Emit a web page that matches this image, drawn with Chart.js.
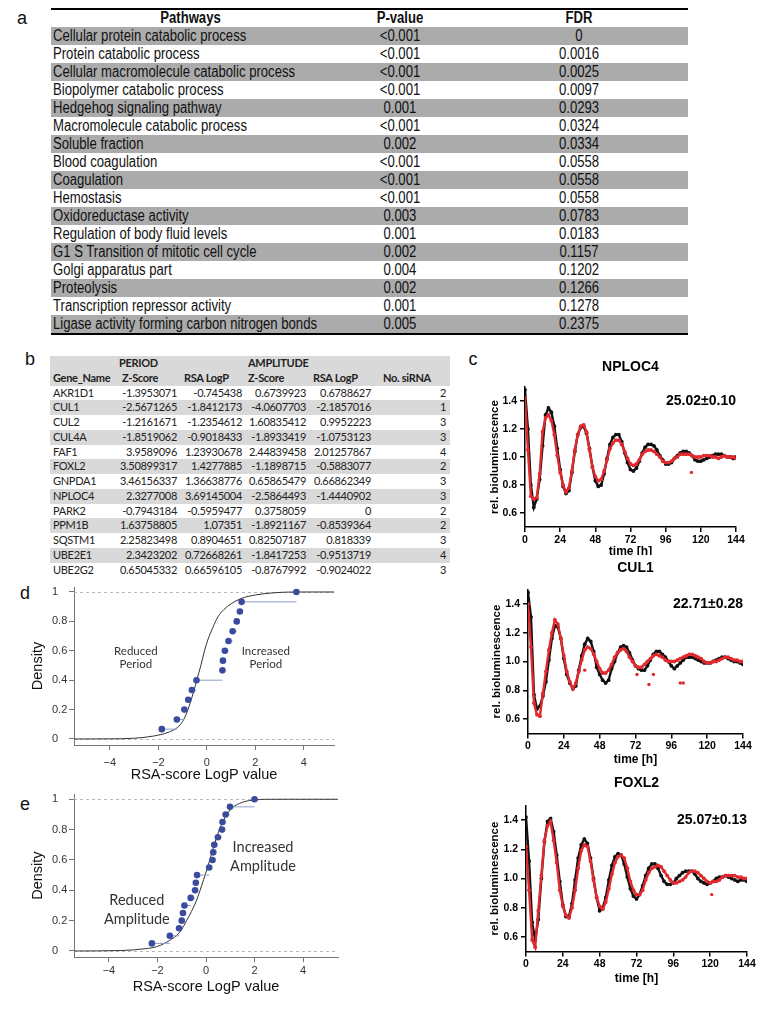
<!DOCTYPE html>
<html>
<head>
<meta charset="utf-8">
<script src="https://cdn.jsdelivr.net/npm/chart.js@4.4.1/dist/chart.umd.min.js"></script>
<style>
  html, body { margin: 0; padding: 0; background: #fff; }
  body { position: relative; width: 763px; height: 1015px; overflow: hidden; }
  .panel { position: absolute; font: 18px "Liberation Sans", Arial, sans-serif; color: #111; transform: translate(-50%, -50%); }
  .rule { position: absolute; left: 51px; width: 637px; background: #000; }
  .rowA { position: absolute; left: 51px; width: 637px; height: 18px; line-height: 18px; white-space: nowrap;
          font: 16px "Liberation Sans", Arial, sans-serif; color: #111; }
  .rowA.shade { background: #ababab; }
  .rowA.head { font-weight: bold; }
  .rowA span { position: absolute; top: 0; transform: scaleX(0.82); }
  .rowA .c0 { left: 2px; transform-origin: left center; }
  .rowA .c1 { left: 279px; width: 140px; text-align: center; transform-origin: center; }
  .rowA .c2 { left: 419px; width: 218px; text-align: center; transform-origin: center; }
  .headB { position: absolute; left: 50px; top: 356px; width: 400px; height: 29.5px; background: #d9d9d9; }
  .rowB { position: absolute; left: 50px; width: 400px; height: 14.75px; line-height: 14.75px; white-space: nowrap;
          font: 11px Lato, sans-serif; letter-spacing: -0.3px; color: #222; }
  .rowB.shade { background: #d9d9d9; }
  .rowB.bold { font-weight: bold; }
  .rowB span { position: absolute; top: 0; }
  canvas { position: absolute; }
  #cNploc4, #cCul1, #cFoxl2 { background: #fff; }
</style>
</head>
<body>
<div class="panel" style="left:22px;top:18px">a</div>
<div class="panel" style="left:30px;top:359px">b</div>
<div class="panel" style="left:473px;top:359px">c</div>
<div class="panel" style="left:25px;top:593px">d</div>
<div class="panel" style="left:25px;top:804px">e</div>

<div class="rule" style="top:8px;height:1.5px"></div>
<div class="rule" style="top:333px;height:2px"></div>
<div id="tableA"></div>
<div class="headB"></div>
<div id="tableB"></div>

<canvas id="cNploc4" width="263" height="210" style="left:485px;top:352px"></canvas>
<canvas id="cCul1" width="278" height="215" style="left:485px;top:555px"></canvas>
<canvas id="cFoxl2" width="272" height="245" style="left:485px;top:770px"></canvas>
<canvas id="dPeriod" width="345" height="205" style="left:0px;top:580px"></canvas>
<canvas id="eAmplitude" width="345" height="210" style="left:0px;top:790px"></canvas>

<script>
// ---- a: enriched pathways
const pathways = [
  'Cellular protein catabolic process', 'Protein catabolic process',
  'Cellular macromolecule catabolic process', 'Biopolymer catabolic process',
  'Hedgehog signaling pathway', 'Macromolecule catabolic process', 'Soluble fraction',
  'Blood coagulation', 'Coagulation', 'Hemostasis', 'Oxidoreductase activity',
  'Regulation of body fluid levels', 'G1 S Transition of mitotic cell cycle',
  'Golgi apparatus part', 'Proteolysis', 'Transcription repressor activity',
  'Ligase activity forming carbon nitrogen bonds'
];
const pValues = ['<0.001', '<0.001', '<0.001', '<0.001', '0.001', '<0.001', '0.002', '<0.001',
  '<0.001', '<0.001', '0.003', '0.001', '0.002', '0.004', '0.002', '0.001', '0.005'];
const fdrValues = ['0', '0.0016', '0.0025', '0.0097', '0.0293', '0.0324', '0.0334', '0.0558',
  '0.0558', '0.0558', '0.0783', '0.0183', '0.1157', '0.1202', '0.1266', '0.1278', '0.2375'];

// ---- b: screen hits
const geneNames = ['AKR1D1', 'CUL1', 'CUL2', 'CUL4A', 'FAF1', 'FOXL2', 'GNPDA1', 'NPLOC4',
  'PARK2', 'PPM1B', 'SQSTM1', 'UBE2E1', 'UBE2G2'];
const periodZ = ['-1.3953071', '-2.5671265', '-1.2161671', '-1.8519062', '3.9589096', '3.50899317',
  '3.46156337', '2.3277008', '-0.7943184', '1.63758805', '2.25823498', '2.3423202', '0.65045332'];
const periodRsa = ['-0.745438', '-1.8412173', '-1.2354612', '-0.9018433', '1.23930678', '1.4277885',
  '1.36638776', '3.69145004', '-0.5959477', '1.07351', '0.8904651', '0.72668261', '0.66596105'];
const amplitudeZ = ['0.6739923', '-4.0607703', '1.60835412', '-1.8933419', '2.44839458', '-1.1898715',
  '0.65865479', '-2.5864493', '0.3758059', '-1.8921167', '0.82507187', '-1.8417253', '-0.8767992'];
const amplitudeRsa = ['0.6788627', '-2.1857016', '0.9952223', '-1.0753123', '2.01257867', '-0.5883077',
  '0.66862349', '-1.4440902', '0', '-0.8539364', '0.818339', '-0.9513719', '-0.9024022'];
const sirnaCount = ['2', '1', '3', '3', '4', '2', '3', '3', '2', '2', '3', '4', '3'];

// ---- c: bioluminescence traces (sampled every 2 h)
const hours = [0, 2, 4, 6, 8, 10, 12, 14, 16, 18, 20, 22, 24, 26, 28, 30, 32, 34, 36, 38,
  40, 42, 44, 46, 48, 50, 52, 54, 56, 58, 60, 62, 64, 66, 68, 70, 72, 74, 76, 78,
  80, 82, 84, 86, 88, 90, 92, 94, 96, 98, 100, 102, 104, 106, 108, 110, 112, 114, 116, 118,
  120, 122, 124, 126, 128, 130, 132, 134, 136, 138, 140, 142, 144];
const timeTicks = [0, 24, 48, 72, 96, 120, 144];
const lumTicks = [0.6, 0.8, 1.0, 1.2, 1.4];
const lumTickLabels = ['0.6', '0.8', '1.0', '1.2', '1.4'];

const nploc4Control = [1.48, 1.20, 0.80, 0.64, 0.70, 0.84, 1.08, 1.30, 1.35, 1.32,
  1.22, 1.06, 0.91, 0.79, 0.74, 0.76, 0.89, 1.04, 1.16, 1.21,
  1.22, 1.17, 1.06, 0.93, 0.83, 0.79, 0.80, 0.88, 0.99, 1.09,
  1.14, 1.16, 1.16, 1.11, 1.03, 0.96, 0.91, 0.90, 0.92, 0.97,
  1.03, 1.07, 1.09, 1.09, 1.08, 1.05, 1.01, 0.98, 0.95, 0.95,
  0.96, 0.99, 1.01, 1.03, 1.04, 1.04, 1.03, 1.01, 0.98, 0.97,
  0.97, 0.98, 0.99, 1.00, 1.01, 1.02, 1.02, 1.02, 1.01, 1.00,
  1.00, 0.99, 1.00];
const nploc4Knockdown = [1.42, 1.05, 0.72, 0.70, 0.71, 0.88, 1.18, 1.28, 1.30, 1.26,
  1.16, 1.01, 0.89, 0.80, 0.75, 0.78, 0.90, 1.05, 1.16, 1.22,
  1.23, 1.18, 1.05, 0.93, 0.86, 0.83, 0.84, 0.90, 0.98, 1.06,
  1.10, 1.12, 1.12, 1.09, 1.04, 0.99, 0.95, 0.94, 0.95, 0.98,
  1.02, 1.04, 1.05, 1.05, 1.04, 1.02, 1.00, 0.97, 0.96, 0.96,
  0.97, 0.99, 1.00, 1.02, 1.02, 1.02, 1.02, 1.01, 1.00, 1.00,
  1.00, 1.01, 1.01, 1.01, 1.00, 1.00, 0.99, 1.00, 1.01, 1.00,
  1.00, 1.00, 0.99];
const nploc4OutlierHours = [113.6];
const nploc4OutlierValues = [0.89];

const cul1Control = [1.48, 1.31, 0.77, 0.67, 0.69, 0.76, 0.86, 1.01, 1.16, 1.25,
  1.24, 1.16, 1.02, 0.91, 0.85, 0.81, 0.83, 0.94, 1.04, 1.12,
  1.16, 1.14, 1.07, 0.96, 0.91, 0.87, 0.85, 0.87, 0.95, 1.00,
  1.06, 1.10, 1.11, 1.10, 1.06, 1.01, 0.97, 0.95, 0.94, 0.94,
  0.97, 1.01, 1.05, 1.07, 1.07, 1.05, 1.03, 1.00, 0.97, 0.95,
  0.97, 0.99, 1.01, 1.03, 1.03, 1.03, 1.02, 1.01, 1.00, 0.99,
  0.99, 0.99, 1.00, 1.01, 1.02, 1.03, 1.03, 1.02, 1.01, 1.00,
  1.00, 0.99, 0.98];
const cul1Knockdown = [1.40, 1.10, 0.71, 0.63, 0.62, 0.78, 0.93, 1.08, 1.20, 1.29,
  1.26, 1.16, 1.04, 0.93, 0.86, 0.81, 0.85, 0.93, 1.01, 1.08,
  1.10, 1.09, 1.05, 1.00, 0.95, 0.92, 0.92, 0.94, 0.98, 1.03,
  1.06, 1.08, 1.09, 1.07, 1.03, 1.00, 0.97, 0.96, 0.96, 0.98,
  1.00, 1.02, 1.04, 1.05, 1.04, 1.03, 1.01, 1.00, 1.00, 1.00,
  1.01, 1.02, 1.03, 1.04, 1.05, 1.05, 1.04, 1.03, 1.02, 1.00,
  0.99, 0.99, 1.00, 1.00, 1.01, 1.02, 1.03, 1.03, 1.02, 1.01,
  1.01, 1.00, 1.00];
const cul1OutlierHours = [38, 73, 81, 84, 102, 104];
const cul1OutlierValues = [0.94, 0.91, 0.84, 0.91, 0.85, 0.85];

const foxl2Control = [1.42, 1.12, 0.70, 0.58, 0.72, 1.00, 1.25, 1.39, 1.41, 1.32,
  1.16, 0.98, 0.82, 0.74, 0.74, 0.83, 0.99, 1.14, 1.23, 1.27,
  1.24, 1.14, 1.00, 0.87, 0.78, 0.80, 0.87, 0.99, 1.09, 1.15,
  1.17, 1.16, 1.10, 1.01, 0.93, 0.88, 0.86, 0.89, 0.95, 1.02,
  1.07, 1.10, 1.10, 1.07, 1.02, 0.98, 0.96, 0.96, 0.97, 1.00,
  1.02, 1.04, 1.05, 1.05, 1.05, 1.03, 1.00, 0.98, 0.97, 0.96,
  0.97, 0.98, 1.00, 1.01, 1.01, 1.02, 1.01, 1.00, 0.99, 0.98,
  0.99, 0.99, 0.98];
const foxl2Knockdown = [1.22, 0.92, 0.58, 0.53, 0.78, 1.02, 1.26, 1.36, 1.39, 1.26,
  1.11, 0.92, 0.81, 0.75, 0.73, 0.80, 0.92, 1.07, 1.19, 1.23,
  1.22, 1.12, 0.99, 0.87, 0.81, 0.79, 0.84, 0.93, 1.03, 1.11,
  1.15, 1.16, 1.14, 1.07, 0.98, 0.92, 0.89, 0.89, 0.92, 0.99,
  1.04, 1.07, 1.08, 1.09, 1.08, 1.05, 1.02, 0.99, 0.97, 0.97,
  0.98, 0.99, 1.01, 1.04, 1.05, 1.05, 1.04, 1.02, 1.00, 0.98,
  0.97, 0.98, 0.98, 0.99, 1.01, 1.02, 1.02, 1.02, 1.02, 1.01,
  1.01, 1.00, 1.00];
const foxl2OutlierHours = [121];
const foxl2OutlierValues = [0.89];

// ---- d / e: cumulative distributions of RSA LogP
const rsaTicks = [-4, -2, 0, 2, 4];
const rsaTickLabels = ['\u22124', '\u22122', '0', '2', '4'];
const densityTicks = [0, 0.2, 0.4, 0.6, 0.8, 1];
const densityTickLabels = ['0', '0.2', '0.4', '0.6', '0.8', '1'];

const periodLogP = [-1.86, -1.24, -0.93, -0.77, -0.62, -0.43, 0.64, 0.66, 0.74, 0.89, 1.06, 1.23, 1.36, 1.43, 3.69];
const periodDensity = [0.067, 0.133, 0.2, 0.267, 0.333, 0.4, 0.467, 0.533, 0.6, 0.667, 0.733, 0.8, 0.867, 0.933, 1];
const periodCurveX = [-5.48, -4, -3, -2.2, -1.6, -1.2, -1.0, -0.85, -0.7, -0.55, -0.4, -0.25, -0.1, 0.05, 0.25, 0.45, 0.7, 1.0, 1.4, 2.0, 2.8, 3.6, 5.24];
const periodCurveY = [0, 0.001, 0.005, 0.02, 0.045, 0.08, 0.12, 0.17, 0.24, 0.32, 0.41, 0.5, 0.6, 0.68, 0.76, 0.83, 0.88, 0.92, 0.955, 0.98, 0.995, 1, 1];

const amplitudeLogP = [-2.23, -1.49, -1.11, -1.0, -0.95, -0.89, -0.63, -0.45, -0.42, -0.37, 0.13, 0.27, 0.30, 0.34, 0.49, 0.66, 0.68, 0.81, 0.99, 2.0];
const amplitudeDensity = [0.05, 0.1, 0.15, 0.2, 0.25, 0.3, 0.35, 0.4, 0.45, 0.5, 0.55, 0.6, 0.65, 0.7, 0.75, 0.8, 0.85, 0.9, 0.95, 1];
const amplitudeCurveX = [-5.44, -3.5, -2.5, -2.0, -1.5, -1.1, -0.8, -0.4, -0.1, 0.1, 0.3, 0.6, 1.0, 1.5, 2.0, 2.5, 5.44];
const amplitudeCurveY = [0, 0.003, 0.015, 0.03, 0.07, 0.12, 0.2, 0.33, 0.47, 0.57, 0.68, 0.82, 0.93, 0.98, 0.995, 1, 1];

// ---------------- tables
const tableA = document.getElementById('tableA');
function addRowA(cells, top, cls) {
  const row = document.createElement('div');
  row.className = 'rowA ' + cls;
  row.style.top = top + 'px';
  cells.forEach((text, k) => {
    const s = document.createElement('span');
    s.className = 'c' + k;
    s.textContent = text;
    row.appendChild(s);
  });
  tableA.appendChild(row);
}
addRowA(['Pathways', 'P-value', 'FDR'], 9, 'head');
document.querySelector('.rowA.head .c0').style.cssText = 'left:0;width:279px;text-align:center;transform-origin:center';
pathways.forEach((name, i) => addRowA([name, pValues[i], fdrValues[i]], 27 + 18 * i, i % 2 === 0 ? 'shade' : ''));

const tableB = document.getElementById('tableB');
function addRowB(cells, top, cls) {
  const row = document.createElement('div');
  row.className = 'rowB ' + cls;
  row.style.top = top + 'px';
  cells.forEach(c => {
    const s = document.createElement('span');
    s.textContent = c.text;
    if (c.left !== undefined) s.style.left = c.left + 'px';
    else s.style.right = c.right + 'px';
    row.appendChild(s);
  });
  tableB.appendChild(row);
}
addRowB([{text: 'PERIOD', left: 69}, {text: 'AMPLITUDE', left: 198}], 356, 'bold');
addRowB([{text: 'Gene_Name', left: 3}, {text: 'Z-Score', left: 72}, {text: 'RSA LogP', left: 134},
  {text: 'Z-Score', left: 198}, {text: 'RSA LogP', left: 263}, {text: 'No. siRNA', left: 333}], 370.75, 'bold');
geneNames.forEach((g, i) => addRowB([
  {text: g, left: 3}, {text: periodZ[i], right: 273}, {text: periodRsa[i], right: 208},
  {text: amplitudeZ[i], right: 144}, {text: amplitudeRsa[i], right: 79}, {text: sirnaCount[i], right: 4}
], 385.5 + 14.75 * i, i % 2 === 1 ? 'shade' : ''));

// ---------------- charts
Chart.defaults.font.family = '"Liberation Sans", Arial, sans-serif';
Chart.defaults.animation = false;

const BLACK = '#111111';
const RED = '#e2292d';
const BLUE = '#3a4b9e';
const STEP = '#8e9ccc';

function points(xs, ys) { return ys.map((v, i) => ({x: xs[i], y: v})); }
function useTicks(values) { return s => { s.ticks = values.map(v => ({value: v})); }; }
function fixSize(prop, size) {
  return s => { s[prop] = size; s.paddingLeft = 0; s.paddingRight = 0; s.paddingTop = 0; s.paddingBottom = 0; };
}

const periodText = {
  id: 'periodText',
  afterDatasetsDraw(chart, args, opts) {
    const {ctx, scales: {x, y}} = chart;
    ctx.save();
    ctx.font = 'bold 14px "Liberation Sans", Arial, sans-serif';
    ctx.fillStyle = '#000';
    ctx.textAlign = 'right';
    ctx.textBaseline = 'middle';
    ctx.fillText(opts.text, x.getPixelForValue(opts.x), y.getPixelForValue(opts.y));
    ctx.restore();
  }
};

function traceChart(id, gene, period, control, knockdown, outX, outY, box) {
  new Chart(document.getElementById(id), {
    type: 'scatter',
    data: {
      datasets: [
        {data: points(outX, outY), pointRadius: 1.7, pointBackgroundColor: RED, pointBorderWidth: 0},
        {data: points(hours, knockdown), showLine: true, borderColor: RED, borderWidth: 2.4,
         pointRadius: 1.9, pointBackgroundColor: RED, pointBorderWidth: 0},
        {data: points(hours, control), showLine: true, borderColor: BLACK, borderWidth: 2.4,
         pointRadius: 1.9, pointBackgroundColor: BLACK, pointBorderWidth: 0}
      ]
    },
    options: {
      responsive: false,
      devicePixelRatio: 1,
      events: [],
      layout: {padding: {right: box.padRight}},
      plugins: {
        legend: {display: false},
        tooltip: {enabled: false},
        title: {display: true, text: gene, fullSize: false, color: '#000',
                font: {size: 14, weight: 'bold'}, padding: {top: box.titleTop, bottom: box.titleBottom}},
        periodText: {text: period, x: 144, y: 1.4}
      },
      scales: {
        x: {
          type: 'linear', min: 0, max: 144,
          afterBuildTicks: useTicks(timeTicks), afterFit: fixSize('height', box.xHeight),
          border: {color: '#000', width: 1.5},
          grid: {drawOnChartArea: false, color: '#000', lineWidth: 1.5, tickLength: 5},
          ticks: {color: '#000', font: {size: 10.5, weight: 'bold'}, padding: 1.7, maxRotation: 0,
                  autoSkip: false, callback: v => String(v)},
          title: {display: true, text: 'time [h]', color: '#000', font: {size: 12, weight: 'bold'},
                  padding: {top: 0, bottom: box.xTitleBottom}}
        },
        y: {
          min: 0.5, max: 1.5,
          afterBuildTicks: useTicks(lumTicks), afterFit: fixSize('width', box.yWidth),
          border: {color: '#000', width: 1.5},
          grid: {drawOnChartArea: false, color: '#000', lineWidth: 1.5, tickLength: 5},
          ticks: {color: '#000', font: {size: 10.5, weight: 'bold'}, padding: 3,
                  callback: (v, i) => lumTickLabels[i]},
          title: {display: true, text: 'rel. bioluminescence', color: '#000', font: {size: 11.5, weight: 'bold'},
                  padding: {top: box.yTitleTop, bottom: 0}}
        }
      }
    },
    plugins: [periodText]
  });
}

traceChart('cNploc4', 'NPLOC4', '25.02\u00b10.10', nploc4Control, nploc4Knockdown, nploc4OutlierHours, nploc4OutlierValues,
  {padRight: 12, titleTop: 6.6, titleBottom: 11.6, xHeight: 35, xTitleBottom: 2.8, yWidth: 40, yTitleTop: 3.1});
traceChart('cCul1', 'CUL1', '22.71\u00b10.28', cul1Control, cul1Knockdown, cul1OutlierHours, cul1OutlierValues,
  {padRight: 20, titleTop: 4.6, titleBottom: 13.2, xHeight: 36.6, xTitleBottom: 2.8, yWidth: 43, yTitleTop: 5.1});
traceChart('cFoxl2', 'FOXL2', '25.07\u00b10.13', foxl2Control, foxl2Knockdown, foxl2OutlierHours, foxl2OutlierValues,
  {padRight: 10, titleTop: 4.6, titleBottom: 14, xHeight: 63.4, xTitleBottom: 28.8, yWidth: 41, yTitleTop: 3.1});

// dashed reference lines at density 0 and 1
const refLines = {
  id: 'refLines',
  beforeDatasetsDraw(chart, args, opts) {
    const {ctx, chartArea, scales: {y}} = chart;
    ctx.save();
    ctx.strokeStyle = '#b9b9b9';
    ctx.lineWidth = 1;
    ctx.setLineDash([3, 3]);
    opts.levels.forEach(v => {
      const py = Math.round(y.getPixelForValue(v)) + 0.5;
      ctx.beginPath();
      ctx.moveTo(chartArea.left, py);
      ctx.lineTo(chartArea.right, py);
      ctx.stroke();
    });
    ctx.restore();
  }
};

const notes = {
  id: 'notes',
  afterDatasetsDraw(chart, args, opts) {
    const {ctx, scales: {x, y}} = chart;
    ctx.save();
    ctx.font = opts.size + 'px Lato, "Open Sans", sans-serif';
    ctx.fillStyle = '#333';
    ctx.textAlign = 'center';
    ctx.textBaseline = 'middle';
    opts.items.forEach(n => {
      const px = x.getPixelForValue(n.x);
      const py = y.getPixelForValue(n.y);
      n.lines.forEach((t, k) => ctx.fillText(t, px, py + (k - (n.lines.length - 1) / 2) * opts.gap));
    });
    ctx.restore();
  }
};

function stepSegments(xs, ys) {
  const out = [];
  for (let i = 0; i < xs.length - 1; i++) {
    out.push({x: xs[i], y: ys[i]}, {x: xs[i + 1], y: ys[i]}, {x: xs[i + 1], y: null});
  }
  return out;
}

function ecdfChart(id, logP, density, curveX, curveY, box) {
  new Chart(document.getElementById(id), {
    type: 'scatter',
    data: {
      datasets: [
        {data: points(logP, density), pointRadius: 3.3, pointBackgroundColor: BLUE, pointBorderWidth: 0},
        {data: stepSegments(logP, density), showLine: true, spanGaps: false, borderColor: STEP,
         borderWidth: 1, pointRadius: 0},
        {data: points(curveX, curveY), showLine: true, borderColor: '#333', borderWidth: 1,
         pointRadius: 0, cubicInterpolationMode: 'monotone'}
      ]
    },
    options: {
      responsive: false,
      devicePixelRatio: 1,
      events: [],
      layout: {padding: {left: 52, top: box.padTop, right: box.padRight, bottom: 0}},
      plugins: {
        legend: {display: false},
        tooltip: {enabled: false},
        refLines: {levels: [0, 1]},
        notes: box.notes
      },
      scales: {
        x: {
          type: 'linear', min: box.xMin, max: box.xMax,
          afterBuildTicks: useTicks(rsaTicks), afterFit: fixSize('height', box.xHeight),
          border: {color: '#777', width: 1},
          grid: {drawOnChartArea: false, color: '#777', tickLength: 5},
          ticks: {color: '#333', font: {size: 11}, padding: box.xTickPad, maxRotation: 0, autoSkip: false,
                  callback: (v, i) => rsaTickLabels[i]},
          title: {display: true, text: 'RSA-score LogP value', color: '#111', font: {size: 14.5},
                  padding: {top: 0, bottom: box.xTitleBottom}}
        },
        y: {
          min: -0.041, max: 1.034,
          afterBuildTicks: useTicks(densityTicks), afterFit: fixSize('width', 22),
          border: {color: '#777', width: 1},
          grid: {drawOnChartArea: false, color: '#777', tickLength: 5},
          ticks: {color: '#333', font: {size: 11}, crossAlign: 'far', callback: (v, i) => densityTickLabels[i]},
          title: {display: true, text: 'Density', color: '#111', font: {size: 14.5},
                  padding: {top: -22.7, bottom: 0}}
        }
      }
    },
    plugins: [refLines, notes]
  });
}

ecdfChart('dPeriod', periodLogP, periodDensity, periodCurveX, periodCurveY, {
  padTop: 7, padRight: 11, xMin: -5.48, xMax: 5.24, xHeight: 40, xTickPad: 6.5, xTitleBottom: 1.3,
  notes: {size: 11.5, gap: 13, items: [
    {x: -2.93, y: 0.55, lines: ['Reduced', 'Period']},
    {x: 2.43, y: 0.55, lines: ['Increased', 'Period']}
  ]}
});
ecdfChart('eAmplitude', amplitudeLogP, amplitudeDensity, amplitudeCurveX, amplitudeCurveY, {
  padTop: 4.1, padRight: 7, xMin: -5.44, xMax: 5.44, xHeight: 42.8, xTickPad: 2.3, xTitleBottom: 4.3,
  notes: {size: 14.5, gap: 19, items: [
    {x: -2.85, y: 0.27, lines: ['Reduced', 'Amplitude']},
    {x: 2.35, y: 0.62, lines: ['Increased', 'Amplitude']}
  ]}
});
</script>
</body>
</html>
